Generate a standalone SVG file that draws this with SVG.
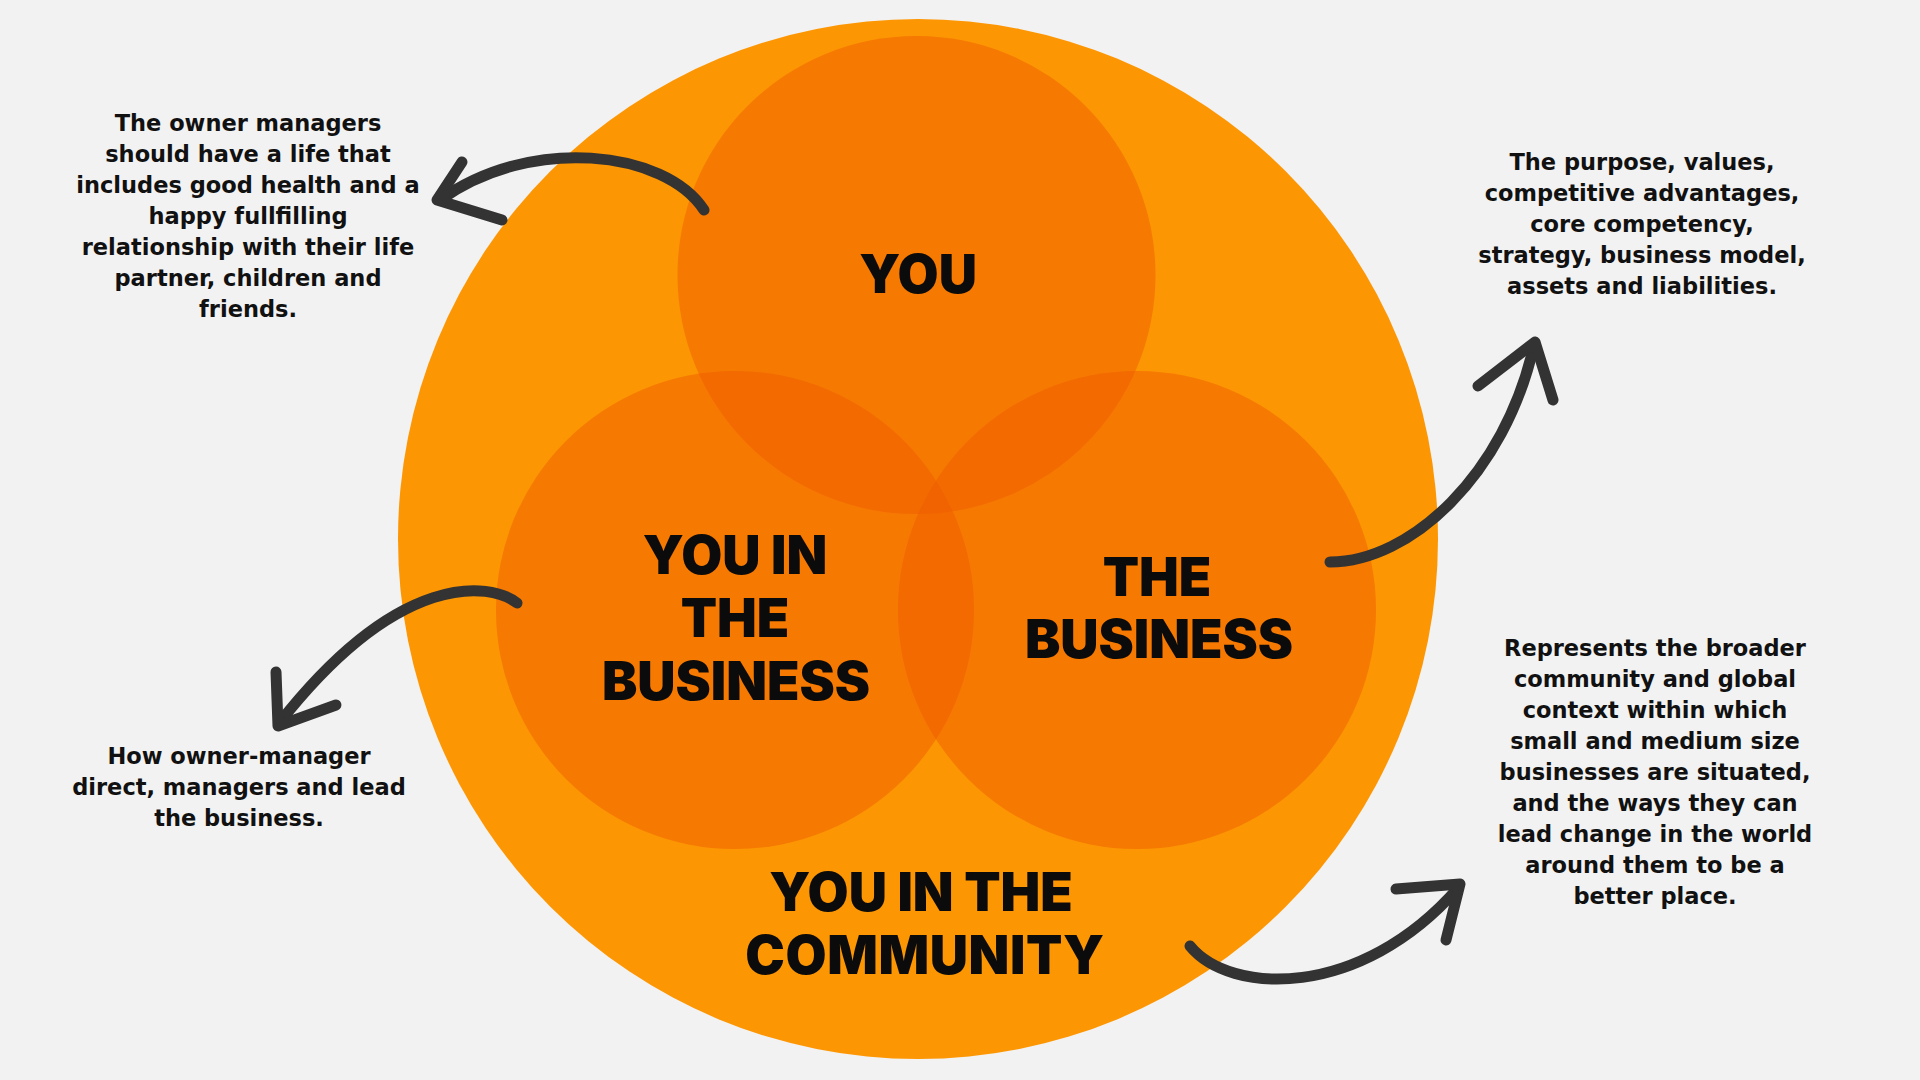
<svg xmlns="http://www.w3.org/2000/svg" width="1920" height="1080" viewBox="0 0 1920 1080">
<style>
.bg{fill:#f2f2f2}
.outer{fill:#fd9603}
.inner{fill:#ef5c00;fill-opacity:0.5}
.title{font-family:Inter,"Liberation Sans",sans-serif;font-weight:900;font-size:53px;fill:#0b0b0b;text-anchor:middle}
.body{font-family:"DejaVu Sans","Liberation Sans",sans-serif;font-weight:700;font-size:22.5px;fill:#111111;text-anchor:middle}
.arrow{fill:none;stroke:#333333;stroke-width:11;stroke-linecap:round;stroke-linejoin:round}
.head{fill:none;stroke:#333333;stroke-width:11;stroke-linecap:round;stroke-linejoin:round}
</style>
<rect class="bg" x="0" y="0" width="1920" height="1080"/>
<g id="community">
<circle class="outer" cx="918" cy="539" r="520"/>
<text class="title" x="921" y="911">YOU IN THE</text>
<text class="title" x="925" y="974" letter-spacing="0.6">COMMUNITY</text>
</g>
<g id="you">
<circle class="inner" cx="916.5" cy="275" r="239"/>
<text class="title" x="918" y="293">YOU</text>
</g>
<g id="you-in-the-business">
<circle class="inner" cx="735" cy="610" r="239"/>
<text class="title" x="735" y="574">YOU IN</text>
<text class="title" x="735" y="637">THE</text>
<text class="title" x="736" y="700">BUSINESS</text>
</g>
<g id="the-business">
<circle class="inner" cx="1137" cy="610" r="239"/>
<text class="title" x="1157" y="596">THE</text>
<text class="title" x="1159" y="658">BUSINESS</text>
</g>
<g id="note-you">
<text class="body" x="248" y="131">The owner managers</text>
<text class="body" x="248" y="162">should have a life that</text>
<text class="body" x="248" y="193">includes good health and a</text>
<text class="body" x="248" y="224">happy fullfilling</text>
<text class="body" x="248" y="255">relationship with their life</text>
<text class="body" x="248" y="286">partner, children and</text>
<text class="body" x="248" y="317">friends.</text>
</g>
<g id="note-business">
<text class="body" x="1642" y="170">The purpose, values,</text>
<text class="body" x="1642" y="201">competitive advantages,</text>
<text class="body" x="1642" y="232">core competency,</text>
<text class="body" x="1642" y="263">strategy, business model,</text>
<text class="body" x="1642" y="294">assets and liabilities.</text>
</g>
<g id="note-you-in-business">
<text class="body" x="239" y="764">How owner-manager</text>
<text class="body" x="239" y="795">direct, managers and lead</text>
<text class="body" x="239" y="826">the business.</text>
</g>
<g id="note-community">
<text class="body" x="1655" y="656">Represents the broader</text>
<text class="body" x="1655" y="687">community and global</text>
<text class="body" x="1655" y="718">context within which</text>
<text class="body" x="1655" y="749">small and medium size</text>
<text class="body" x="1655" y="780">businesses are situated,</text>
<text class="body" x="1655" y="811">and the ways they can</text>
<text class="body" x="1655" y="842">lead change in the world</text>
<text class="body" x="1655" y="873">around them to be a</text>
<text class="body" x="1655" y="904">better place.</text>
</g>
<g id="connectors">
<path class="arrow" d="M704,210 C665,150 530,135 440,200"/>
<path class="head" d="M462,162 L437,200 L502,220"/>
<path class="arrow" d="M517,603 C490,582 400,570 280,722"/>
<path class="head" d="M276,672 L278,726 L336,705"/>
<path class="arrow" d="M1330,562 C1410,562 1505,475 1534,345"/>
<path class="head" d="M1478,386 L1535,342 L1553,400"/>
<path class="arrow" d="M1190,946 C1230,995 1360,1000 1458,888"/>
<path class="head" d="M1396,889 L1460,884 L1446,940"/>
</g>
</svg>
